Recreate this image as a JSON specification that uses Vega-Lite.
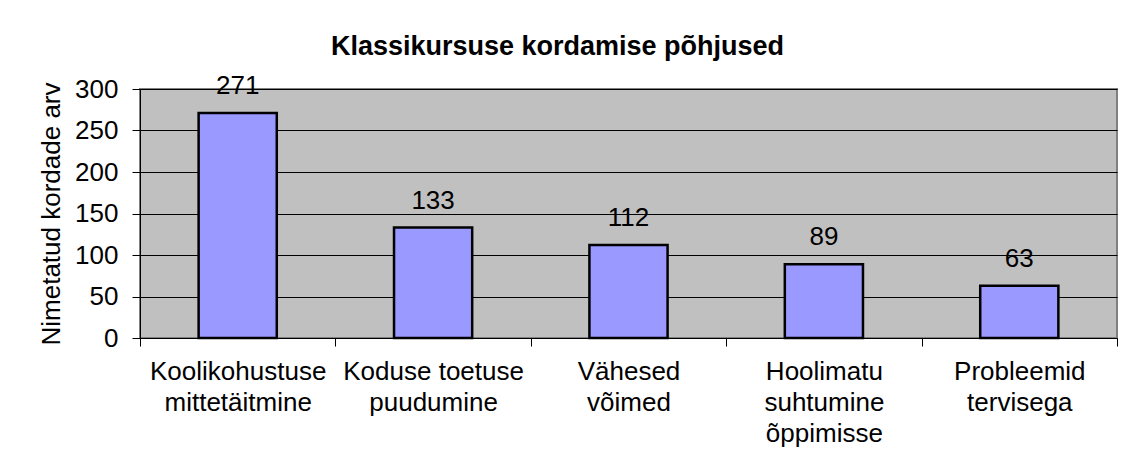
{
  "$schema": "https://vega.github.io/schema/vega-lite/v6.json",
  "autosize": {"type": "none"},
  "padding": {"left": 140, "top": 89, "right": 8, "bottom": 121},
  "width": 977,
  "height": 249,
  "background": "white",
  "title": {
    "text": "Klassikursuse kordamise põhjused",
    "font": "Liberation Sans",
    "fontSize": 27,
    "fontWeight": "bold",
    "color": "black",
    "anchor": "middle",
    "frame": "group",
    "baseline": "alphabetic",
    "dx": -71,
    "dy": 33,
    "offset": 24
  },
  "data": {
    "values": [
      {"pohjus": "Koolikohustuse mittetäitmine", "arv": 271},
      {"pohjus": "Koduse toetuse puudumine", "arv": 133},
      {"pohjus": "Vähesed võimed", "arv": 112},
      {"pohjus": "Hoolimatu suhtumine õppimisse", "arv": 89},
      {"pohjus": "Probleemid tervisega", "arv": 63}
    ]
  },
  "encoding": {
    "x": {
      "field": "pohjus",
      "type": "nominal",
      "sort": null,
      "scale": {"paddingInner": 0, "paddingOuter": 0},
      "axis": {
        "title": null,
        "labelAngle": 0,
        "labelExpr": "split(replace(datum.label, 'Koduse toetuse', 'Koduse\u00a0toetuse'), ' ')",
        "labelFont": "Liberation Sans",
        "labelFontSize": 26,
        "labelLineHeight": 31,
        "labelColor": "black",
        "labelPadding": 12,
        "labelLimit": 400,
        "tickBand": "extent",
        "tickColor": "black",
        "tickSize": 8,
        "domainColor": "black",
        "domainWidth": 1,
        "grid": false
      }
    },
    "y": {
      "field": "arv",
      "type": "quantitative",
      "scale": {"domain": [0, 300], "nice": false},
      "axis": {
        "title": "Nimetatud kordade arv",
        "titleFont": "Liberation Sans",
        "titleFontSize": 26,
        "titleFontWeight": "normal",
        "titleColor": "black",
        "titlePadding": 10,
        "values": [0, 50, 100, 150, 200, 250, 300],
        "labelFont": "Liberation Sans",
        "labelFontSize": 26,
        "labelColor": "black",
        "labelPadding": 14,
        "tickColor": "black",
        "tickSize": 8,
        "domainColor": "black",
        "domainWidth": 1,
        "grid": true,
        "gridColor": "black",
        "gridWidth": 1
      }
    }
  },
  "layer": [
    {
      "mark": {"type": "bar", "fill": "#9999FF", "stroke": "black", "strokeWidth": 2.5, "width": {"band": 0.4}}
    },
    {
      "mark": {"type": "text", "baseline": "bottom", "dy": -14, "font": "Liberation Sans", "fontSize": 26, "color": "black"},
      "encoding": {"text": {"field": "arv", "type": "quantitative"}}
    }
  ],
  "config": {
    "view": {"fill": "#C0C0C0", "stroke": "#808080", "strokeWidth": 2}
  }
}
